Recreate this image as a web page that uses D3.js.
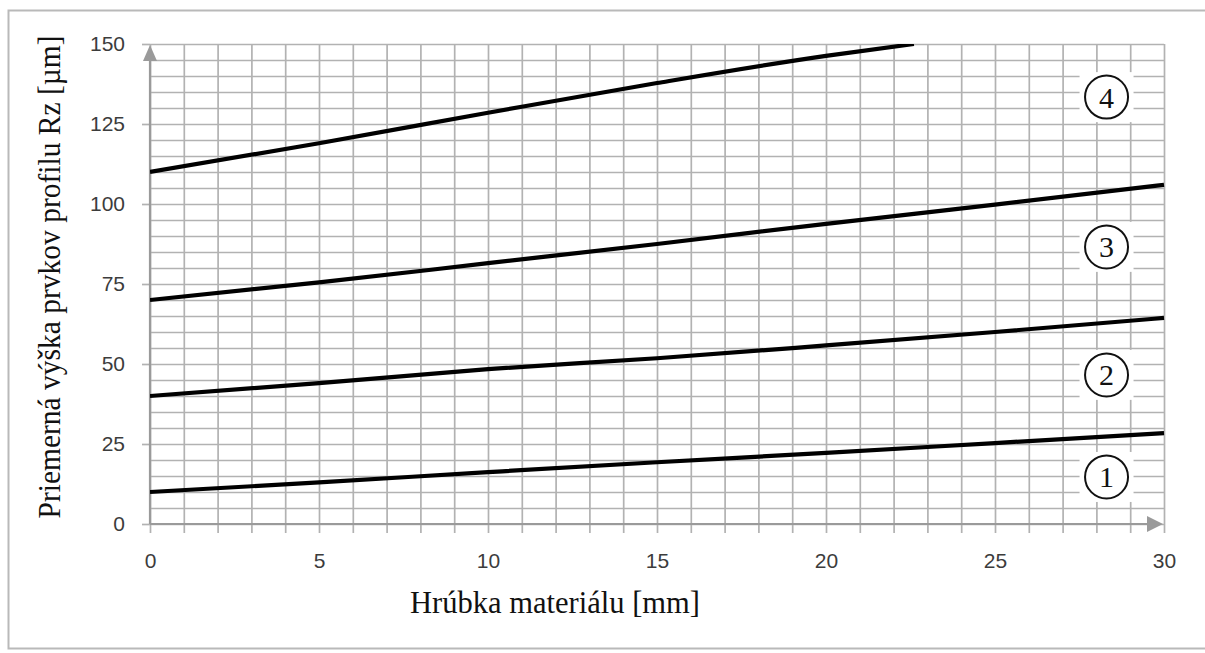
<!DOCTYPE html>
<html>
<head>
<meta charset="utf-8">
<script src="https://cdn.jsdelivr.net/npm/d3@7"></script>
<style>
body{margin:0;background:#fff;overflow:hidden;}
svg{display:block;}
</style>
</head>
<body>
<div id="chart"></div>
<script>
// data
var thickness = [0,5,10,15,20,25,30];
var curve1 = [10,13,16.2,19.3,22.2,25.3,28.4];
var curve2 = [40,44,48.4,51.8,55.8,60,64.4];
var curve3 = [70,75.5,81.5,87.5,93.8,99.8,106];
var thickness4 = [0,5,10,15,20,22.6];
var curve4 = [110,119,128.5,137.8,146.3,150];
var labelNames = ["1","2","3","4"];
var labelValues = [14.7,46.6,86.6,133.4];
var labelX = 28.3;
var xTicks = [0,5,10,15,20,25,30];
var yTicks = [0,25,50,75,100,125,150];

var W = 1205, H = 653;
var pLeft = 150, pRight = 1164, pTop = 44, pBottom = 524;
var gridCol = "#b2b2b2";

var svg = d3.select("#chart").append("svg").attr("width",W).attr("height",H);

// outer frame (right side runs off the picture)
svg.append("path")
	.attr("d","M1210,10.5H8.5V648.5H1210")
	.attr("fill","none").attr("stroke","#b9b9b9").attr("stroke-width",2);

var x = d3.scaleLinear().domain([0,30]).range([pLeft,pRight]);
var y = d3.scaleLinear().domain([0,150]).range([pBottom,pTop]);

// vertical grid, every 1 mm, sticking out below the axis
var vg = svg.append("g").attr("transform","translate(0,"+pTop+")")
	.call(d3.axisTop(x).tickValues(d3.range(0,31)).tickSize(-(pBottom-pTop+9)).tickFormat(""));
vg.select(".domain").remove();
vg.selectAll("line").attr("stroke",gridCol).attr("stroke-width",1.7);

// horizontal grid, every 5 um
var hg = svg.append("g").attr("transform","translate("+pRight+",0)")
	.call(d3.axisRight(y).tickValues(d3.range(0,151,5)).tickSize(-(pRight-pLeft)).tickFormat(""));
hg.select(".domain").remove();
hg.selectAll("line").attr("stroke",gridCol).attr("stroke-width",1.7);

// y axis labels + major ticks
var ya = svg.append("g").attr("transform","translate("+pLeft+",0)")
	.call(d3.axisLeft(y).tickValues(yTicks).tickSize(8).tickPadding(17));
ya.select(".domain").remove();
ya.selectAll("line").attr("stroke",gridCol).attr("stroke-width",1.7);
ya.selectAll("text").attr("font-family","Liberation Sans, Arial, sans-serif")
	.attr("font-size",21).attr("fill","#3c3c3c");

// x axis labels
var xa = svg.append("g").attr("transform","translate(0,"+pBottom+")")
	.call(d3.axisBottom(x).tickValues(xTicks).tickSize(0).tickPadding(29));
xa.select(".domain").remove();
xa.selectAll("text").attr("font-family","Liberation Sans, Arial, sans-serif")
	.attr("font-size",21).attr("fill","#3c3c3c");

// axis lines with arrows
var axCol = "#9a9a9a";
svg.append("line").attr("x1",x(0)).attr("x2",x(0)).attr("y1",y(0)).attr("y2",y(150)+14)
	.attr("stroke",axCol).attr("stroke-width",2.2);
svg.append("path")
	.attr("d","M"+x(0)+","+(y(150)+1)+"L"+(x(0)-7)+","+(y(150)+17)+"L"+(x(0)+7)+","+(y(150)+17)+"Z")
	.attr("fill",axCol);
svg.append("line").attr("x1",x(0)).attr("x2",x(30)-14).attr("y1",y(0)).attr("y2",y(0))
	.attr("stroke",axCol).attr("stroke-width",2.2);
svg.append("path")
	.attr("d","M"+(x(30)-1)+","+y(0)+"L"+(x(30)-17)+","+(y(0)-8)+"L"+(x(30)-17)+","+(y(0)+8)+"Z")
	.attr("fill",axCol);

// curves
svg.append("clipPath").attr("id","plotClip").append("rect")
	.attr("x",pLeft).attr("y",pTop).attr("width",pRight-pLeft+2).attr("height",pBottom-pTop);

var line = d3.line()
	.x(function(d){return x(d[0]);})
	.y(function(d){return y(d[1]);})
	.curve(d3.curveMonotoneX);

var series = [
	d3.zip(thickness,curve1),
	d3.zip(thickness,curve2),
	d3.zip(thickness,curve3),
	d3.zip(thickness4,curve4)
];
svg.append("g").attr("clip-path","url(#plotClip)")
	.selectAll("path").data(series).enter().append("path")
	.attr("d",line).attr("fill","none").attr("stroke","#000").attr("stroke-width",4.2)
	.attr("stroke-linecap","butt");

// circled curve numbers
var lab = svg.selectAll(".lab").data(labelNames).enter().append("g")
	.attr("class","lab")
	.attr("transform",function(d,i){return "translate("+x(labelX)+","+y(labelValues[i])+")";});
lab.append("rect").attr("x",-27).attr("y",-25).attr("width",54).attr("height",50).attr("fill","#fff");
lab.append("circle").attr("r",21.5).attr("fill","#fff").attr("stroke","#111").attr("stroke-width",2);
lab.append("text").text(function(d){return d;})
	.attr("text-anchor","middle").attr("dy","0.35em")
	.attr("font-family","Liberation Serif, Times New Roman, serif")
	.attr("font-size",30).attr("fill","#111");

// axis titles
svg.append("text").text("Hrúbka materiálu [mm]")
	.attr("x",555).attr("y",613).attr("text-anchor","middle")
	.attr("font-family","Liberation Serif, Times New Roman, serif")
	.attr("font-size",31).attr("fill","#111")
	.attr("textLength",290).attr("lengthAdjust","spacingAndGlyphs");

svg.append("text").text("Priemerná výška prvkov profilu Rz [µm]")
	.attr("transform","translate(60,277) rotate(-90)")
	.attr("text-anchor","middle")
	.attr("font-family","Liberation Serif, Times New Roman, serif")
	.attr("font-size",31).attr("fill","#111")
	.attr("textLength",483).attr("lengthAdjust","spacingAndGlyphs");
</script>
</body>
</html>
